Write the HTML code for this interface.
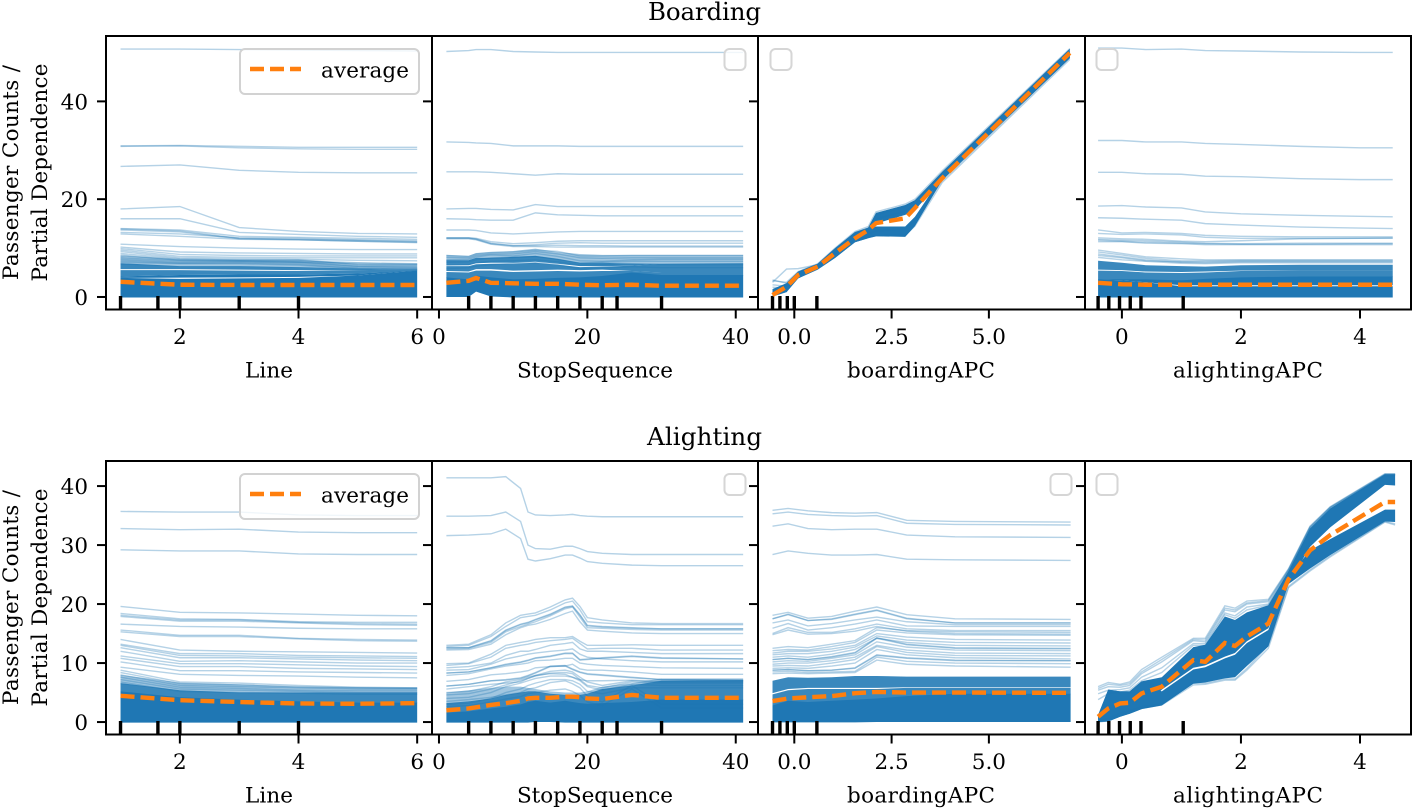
<!DOCTYPE html>
<html lang="en">
<head>
<meta charset="utf-8">
<title>Partial dependence: Boarding and Alighting</title>
<style>
html,body{margin:0;padding:0;background:#fff;}
svg{display:block;}
text{font-family:"DejaVu Serif","Liberation Serif",serif;font-size:21.5px;fill:#000;}
.title{font-size:24.5px;text-anchor:middle;}
.xlabel{text-anchor:middle;}
.ylabel{text-anchor:middle;}
</style>
</head>
<body>
<svg id="chart" width="1412" height="809" viewBox="0 0 1412 809" xmlns="http://www.w3.org/2000/svg">
  <rect x="0" y="0" width="1412" height="809" fill="#fff"/>
  <text class="title" x="704.5" y="20" textLength="113">Boarding</text>
  <text class="title" x="704.5" y="445" textLength="115">Alighting</text>

  <g id="p00"></g>
  <g id="p01"></g>
  <g id="p02"></g>
  <g id="p03"></g>
  <g id="p10"></g>
  <g id="p11"></g>
  <g id="p12"></g>
  <g id="p13"></g>

  <text class="ylabel" transform="translate(18,172.5) rotate(-90)" textLength="215">Passenger Counts /</text>
  <text class="ylabel" transform="translate(47,172.5) rotate(-90)" textLength="218">Partial Dependence</text>
  <text class="ylabel" transform="translate(18,597.5) rotate(-90)" textLength="215">Passenger Counts /</text>
  <text class="ylabel" transform="translate(47,597.5) rotate(-90)" textLength="218">Partial Dependence</text>

  <text class="xlabel" x="269" y="377.5" textLength="48">Line</text>
  <text class="xlabel" x="595" y="377.5" textLength="156">StopSequence</text>
  <text class="xlabel" x="921" y="377.5" textLength="148">boardingAPC</text>
  <text class="xlabel" x="1248" y="377.5" textLength="150">alightingAPC</text>
  <text class="xlabel" x="269" y="802.5" textLength="48">Line</text>
  <text class="xlabel" x="595" y="802.5" textLength="156">StopSequence</text>
  <text class="xlabel" x="921" y="802.5" textLength="148">boardingAPC</text>
  <text class="xlabel" x="1248" y="802.5" textLength="150">alightingAPC</text>

  <g>
    <rect x="240" y="49" width="179" height="45" rx="5" fill="#fff" fill-opacity="0.8" stroke="#d2d2d2" stroke-width="2"/>
    <line x1="250" y1="69" x2="301" y2="69" stroke="#ff7f0e" stroke-width="4.4" stroke-dasharray="14 6"/>
    <text x="321" y="77.5" textLength="88">average</text>
  </g>
  <g>
    <rect x="240" y="474" width="179" height="45" rx="5" fill="#fff" fill-opacity="0.8" stroke="#d2d2d2" stroke-width="2"/>
    <line x1="250" y1="494" x2="301" y2="494" stroke="#ff7f0e" stroke-width="4.4" stroke-dasharray="14 6"/>
    <text x="321" y="502.5" textLength="88">average</text>
  </g>
  <rect x="724.5" y="49" width="21" height="21" rx="5" fill="#fff" fill-opacity="0.8" stroke="#d6d6d6" stroke-width="2"/>
  <rect x="770.5" y="49" width="21" height="21" rx="5" fill="#fff" fill-opacity="0.8" stroke="#d6d6d6" stroke-width="2"/>
  <rect x="1096.5" y="49" width="21" height="21" rx="5" fill="#fff" fill-opacity="0.8" stroke="#d6d6d6" stroke-width="2"/>
  <rect x="724.5" y="474" width="21" height="21" rx="5" fill="#fff" fill-opacity="0.8" stroke="#d6d6d6" stroke-width="2"/>
  <rect x="1050.5" y="474" width="21" height="21" rx="5" fill="#fff" fill-opacity="0.8" stroke="#d6d6d6" stroke-width="2"/>
  <rect x="1096.5" y="474" width="21" height="21" rx="5" fill="#fff" fill-opacity="0.8" stroke="#d6d6d6" stroke-width="2"/>
</svg>

<script>
/* ---------- shared axis data ---------- */
const boardingYTicks = [0, 20, 40];
const alightingYTicks = [0, 10, 20, 30, 40];
const boardingYLim = [-2.56, 53.37];
const alightingYLim = [-2.11, 44.25];

const lineLim = [0.755, 6.25];
const stopLim = [-0.94, 43];
const boardLim = [-0.933, 7.47];
const alightLim = [-0.62, 4.857];

const lineTicks = [2, 4, 6];
const stopTicks = [0, 20, 40];
const boardTicks = [0, 2.5, 5];
const boardTickLabels = ['0.0', '2.5', '5.0'];
const alightTicks = [0, 2, 4];

const lineRug = [1, 1.63, 2, 3, 4];
const stopRug = [4, 7, 10, 13, 16, 19, 22, 24, 30];
const boardRug = [-0.56, -0.37, -0.18, 0, 0.58];
const alightRug = [-0.4, -0.22, -0.04, 0.14, 0.32, 1.03];

/* ---------- Boarding / Line ---------- */
const bLineX = [1, 2, 3, 4, 5, 6];
const bLineAvg = [3.1, 2.5, 2.45, 2.45, 2.45, 2.45];
const bLineSolid = [
  [[-0.1,-0.1,-0.1,-0.1,-0.1,-0.1],[3.9,3.7,3.8,3.9,4.4,5.4]],
  [[3.9,3.95,4,4.1,4.4,5.4],[4.2,4.5,4.6,4.6,4.8,5.4]]
];
const bLineMid = [
  [[4.2,4.5,4.6,4.6,4.8,5.3],[5.5,5.5,5.4,5.3,5.5,5.6]],
  [[5.7,5.7,5.6,5.5,5.5,5.6],[6.9,6.3,6.3,6.1,5.8,5.7]]
];
const bLineLight = [[[6.6,6.2,6.2,6,5.7,5.6],[8.4,7.7,7.6,7.6,6.8,6.8]]];
const bLineIce = [
  [50.7,50.7,50.6,50.5,50.4,50.3],[30.9,31,30.8,30.6,30.6,30.6],[30.8,30.9,30.5,30.3,30.2,30.2],
  [26.7,27,25.9,25.5,25.4,25.4],[18,18.5,14.2,13.4,13,12.9],[16,16,13.2,12.8,12.4,12.2],
  [14,13.7,12.4,12.2,12,11.8],[13.9,13.5,12,11.8,11.6,11.3],[13.7,13.3,11.9,11.7,11.4,11.1],
  [13.2,12.9,12.1,12,11.7,11.5],[12.9,12.4,11.8,11.7,11.4,11.2],[10.8,10.3,10,9.8,9.7,9.7],
  [10.2,9.2,9,8.9,8.8,8.8],[9.9,8.7,8.5,8.4,8.4,8.4],[9.6,8.3,8.1,8,8,8],[9.3,8,7.8,7.7,7.5,7.4],
  [8.9,7.8,7.5,7.4,7,6.8],[8.4,7.7,7.6,7.6,6.6,6.5],[8,7.4,7.4,7.2,6.3,6.2],[7.7,7.1,7.2,7,6.2,6],
  [7.4,6.9,7,6.7,5.9,5.8],[7.1,6.8,6.8,6.5,5.8,5.7],[8.6,7.5,7.3,7.1,6.9,6.7]
];

/* ---------- Boarding / StopSequence ---------- */
const bStopX = [1, 4, 5, 7, 10, 13, 16, 19, 22, 26, 30, 41];
const bStopAvg = [2.9, 3.3, 3.9, 2.9, 2.8, 2.7, 2.7, 2.5, 2.4, 2.5, 2.3, 2.3];
const bStopSolid = [[[0,0,1.1,0.1,-0.1,-0.1,-0.1,-0.1,-0.1,-0.1,-0.1,-0.1],[4,3.6,4.4,4,3.6,3.7,3.9,4,4.3,5,4.5,4.5]]];
const bStopMid = [
  [[3.9,3.5,4.3,3.9,3.5,3.6,3.8,3.9,4.2,4.9,4.4,4.4],[5.1,5,5.4,5.4,5.1,5.2,5.3,5.2,5.3,5.3,5,5]],
  [[5.3,5.2,5.7,5.7,5.4,5.5,5.6,5.5,5.6,5.3,5,5],[6.3,6.3,6.7,6.8,6.8,7,6.6,6.1,6.2,6.4,6.8,6.9]],
  [[6.5,6.5,6.9,7,7,7.2,6.8,6.3,6.3,6.4,6.8,6.9],[7.5,7.5,8,8,8.2,8.4,7.8,7,7,6.8,6.8,6.9]]
];
const bStopLight = [[[7.3,7.3,7.8,7.8,8,8.2,7.6,6.9,6.9,6.7,6.7,6.8],[8.6,8.4,9,9.2,9.4,9.9,9.2,8.8,8.6,8.6,8.6,8.6]]];
const bStopIce = [
  [50.2,50.4,50.6,50.6,50.2,50.1,50,50,50,50,50,50],[31.7,31.6,31.5,31.4,30.9,30.9,30.9,30.8,30.8,30.8,30.8,30.8],
  [25.6,25.6,25.6,25.5,25.2,24.9,25.2,25.1,25.1,25.1,25.1,25.1],[18,18.1,18.1,17.9,17.8,18.9,18.5,18.5,18.5,18.5,18.5,18.5],
  [16,15.9,15.8,15.7,15.7,17.2,16.8,16.7,16.6,16.6,16.6,16.6],[13.7,13.7,13.6,13.1,12.9,13.1,13.3,13.4,13.4,13.4,13.4,13.4],
  [12.1,12.1,12,11.3,10.9,11.1,11.4,11.5,11.5,11.5,11.5,11.5],[12.1,12.1,11.9,11,10.5,10.7,11,11.1,11,11,11,11],
  [12,12,11.8,10.9,10.5,10.5,10.6,10.5,10.5,10.4,10.4,10.4],[11.9,11.9,11.7,10.8,10.3,10.3,10.2,10.2,10.2,10.2,10.2,10.2],
  [8.5,8.3,8.8,9.1,9.2,9.6,9.3,8.4,8.4,8.5,8.5,8.5],[8.1,8,8.5,8.8,8.8,9.3,8.8,8,7.9,8,8,8],
  [7.6,7.7,8.2,8.6,8.4,8.9,8.3,7.4,7.3,7.6,7.7,7.7],[7.1,7.2,7.6,8,8.1,8.3,7.7,6.9,7.1,7.3,7.3,7.3],
  [6.5,6.6,7,7.3,7.4,7.6,7.2,6.5,6.6,6.8,6.6,6.6],[5.8,6,6.3,6.6,6.9,7,6.6,5.8,5.9,6.2,6,6]
];

/* ---------- Boarding / boardingAPC ---------- */
const bBoardX = [-0.56, -0.2, 0.1, 0.6, 1.05, 1.56, 1.9, 2.1, 2.85, 3.1, 3.8, 7.08];
const bBoardAvg = [0.4, 2.1, 4.5, 6.2, 9, 12, 13.7, 15.1, 16.1, 18.2, 24.3, 49.9];
const bBoardSolid = [
  [[0.1,1,3.8,5.6,8,11.2,12,15,16.8,17.8,23.9,48.9],[1.6,2.8,5.2,6.8,10,13.3,14.2,17.2,18.8,19.8,25.6,50.8]],
  [[0.1,1,3.8,5.6,8,11.2,12,12.4,12.3,14.5,23.9,48.8],[1.6,2.8,5.2,6.8,10,13.3,13.8,14.4,14.4,16.4,24.7,50]]
];
const bBoardMid = [];
const bBoardLight = [];
const bBoardIce = [
  [3.5,2.8,5,6.6,9.8,13,14,16.8,18.5,19.6,25.2,50.2],[3,5.7,5.8,6.6,9.5,12.8,13.8,16,17.5,19,25,50],
  [2.5,2.2,4.8,6.2,9.2,12.5,13,13.5,14,15.6,23.8,49],[2,1.8,4.4,6,8.8,11.8,12.2,12.5,12.6,14.5,23.4,48.6],
  [3.3,3,5.2,6.8,10,13.4,14.4,17.4,19,20,25.8,50.8]
];

/* ---------- Boarding / alightingAPC ---------- */
const bAlightX = [-0.4, 0, 0.4, 1, 1.4, 2, 3, 4, 4.55];
const bAlightAvg = [2.9, 2.6, 2.5, 2.5, 2.5, 2.5, 2.5, 2.5, 2.5];
const bAlightSolid = [
  [[-0.1,-0.1,-0.1,-0.1,-0.1,-0.1,-0.1,-0.1,-0.1],[3.6,3.4,3,2.2,2.2,2.2,2.2,2.2,2.2]],
  [[3.6,3.4,3,2.4,2.4,2.4,2.4,2.4,2.4],[3.6,3.6,3.6,3.4,3.7,4,4.2,4.2,4.2]]
];
const bAlightMid = [
  [[3.5,3.5,3.5,3.3,3.6,3.9,4.1,4.1,4.1],[5.4,5.3,5,4.9,5,5.3,5.4,5.4,5.4]],
  [[5.6,5.5,5.2,5.1,5.2,5.4,5.4,5.4,5.4],[7.4,7,6.5,6.3,6.2,6.5,6.6,6.6,6.6]]
];
const bAlightLight = [];
const bAlightIce = [
  [50.9,50.9,50.6,50.7,50.4,50.3,50.1,50,50],[32,32,31.7,31.7,31.4,31.2,30.8,30.5,30.5],
  [25.5,25.5,25.2,25.1,24.7,24.6,24.2,24,24],[18.6,18.7,18.4,18.2,17.4,17,16.7,16.5,16.4],
  [16.2,16.1,15.9,15.7,15,14.7,14.3,14.1,14],[13.7,13.1,13.2,13,12.6,12.4,12.3,12.3,12.3],
  [13,12.8,12.9,12.7,12.2,12,12,12,12],[12.1,11.9,11.8,11.4,11.3,11.5,11.9,12,12.1],
  [11.8,11.6,11.5,11.2,11,10.9,11,11,11],[11.6,11.4,11.2,11,10.9,10.8,10.8,10.9,10.9],
  [11.3,11.3,11,10.9,10.7,10.7,10.7,10.7,10.7],[9.6,8.9,8.2,7.8,7.6,7.6,7.6,7.6,7.6],
  [9.2,8.6,7.9,7.4,7.4,7.5,7.5,7.5,7.5],[8.8,8.2,7.6,7.1,7,7.2,7.2,7.2,7.2],
  [8.5,8,7.4,7.2,7.2,7.3,7.3,7.3,7.3],[8.1,7.6,7.3,6.9,6.8,7,7,7,7]
];

/* ---------- Alighting / Line ---------- */
const aLineX = [1, 2, 3, 4, 5, 6];
const aLineAvg = [4.45, 3.7, 3.4, 3.15, 3.1, 3.2];
const aLineSolid = [[[-0.1,-0.1,-0.1,-0.1,-0.1,-0.1],[5.2,4.2,3.8,3.5,3.3,3.3]]];
const aLineMid = [[[5,4.1,3.7,3.4,3.2,3.2],[6.6,5.4,5,5,5,5]]];
const aLineLight = [[[6.4,5.3,4.9,4.9,4.9,4.9],[8,6.7,6.4,6,5.9,5.9]]];
const aLineIce = [
  [35.7,35.6,35.6,35.1,35,35],[32.8,32.6,32.7,32.2,32.1,32.1],[29.2,29,29,28.5,28.4,28.4],
  [19.6,18.6,18.5,18.3,18.1,18],[18.4,17.5,17.4,17,16.9,16.9],[18.1,17.3,17.3,16.9,16.7,16.6],
  [17.9,17.1,17.1,16.8,16.5,16.4],[16.6,16.2,16.1,15.9,15.8,15.8],[15.6,14.7,14.7,14.2,14,13.9],
  [15.3,14.5,14.5,14.1,13.8,13.7],[14,12.2,12,11.9,11.8,11.7],[13.2,11.6,11.6,11.3,11.2,11.1],
  [13,11.3,11.2,11,10.9,10.8],[12.6,10.9,10.9,10.7,10.5,10.4],[12,10.3,10.4,10.2,10,10],
  [11.2,9.9,9.9,9.7,9.5,9.4],[10.8,9.4,9.4,9.1,9,8.9],[10.2,8.7,8.7,8.5,8.4,8.3],[9.3,8.1,7.9,7.8,7.6,7.5],
  [8.8,6.8,6.6,6.2,5.9,5.8],[8.4,6.5,6.3,6,5.8,5.7],[8,6.2,6,5.8,5.6,5.6],[7.6,5.9,5.7,5.4,5.3,5.3],
  [7.2,5.6,5.4,5.2,5,5],[6.8,5.2,5,4.9,4.7,4.7]
];

/* ---------- Alighting / StopSequence ---------- */
const aStopX = [1, 4, 7, 9, 11, 12, 13, 15, 17, 18, 19, 20, 22, 26, 30, 41];
const aStopAvg = [2, 2.3, 2.9, 3.2, 3.6, 4, 4.1, 4.1, 4.3, 4.3, 4.2, 4, 3.9, 4.6, 4.1, 4.1];
const aStopSolid = [[[-0.1,-0.1,-0.1,-0.1,-0.1,-0.1,0,0,-0.1,-0.1,-0.1,-0.1,-0.1,-0.1,-0.1,-0.1],[1.6,1.8,2.3,2.6,3,3.4,3.6,3.3,3.6,3.4,3.2,3.1,3.2,3.4,3.8,3.8]]];
const aStopMid = [[[1.5,1.7,2.2,2.5,2.9,3.3,3.5,3.2,3.5,3.3,3.1,3,3.1,3.3,3.7,3.7],[3.2,3.5,4,4.6,5,5.2,5.2,4.8,4.6,4.6,4.6,4.8,5.6,6.2,7,7.1]]];
const aStopLight = [[[3.1,3.4,3.9,4.5,4.9,5.1,5.1,4.7,4.5,4.5,4.5,4.7,5.5,6.1,6.9,7],[5,5.4,5.8,6,6,5.8,5.6,5.2,5,5,5,5.2,6,6.6,7.4,7.4]]];
const aStopIce = [
  [41.4,41.4,41.4,41.6,39.6,35.6,35.1,35,35.1,35.2,35,34.9,34.8,34.8,34.8,34.8],
  [34.9,34.9,35,35.6,34,30,29.4,29.3,29.8,29.8,29.4,28.9,28.6,28.4,28.4,28.4],
  [31.6,31.7,31.9,32.7,31.1,27.6,27.3,27.7,28.3,28.3,27.8,27.2,26.9,26.6,26.5,26.5],
  [13,13.2,14.8,16.8,18.1,18.3,18.5,19.5,20.7,21,19.6,17.7,17.3,16.8,16.7,16.7],
  [12.8,13,14.5,16.2,17.7,17.9,18.1,19,20.2,20.5,19,17,16.8,16.5,16.5,16.5],
  [12.6,12.6,13.8,15.6,16.6,16.9,17.4,18.3,19.5,19.7,18.2,16.4,16.2,16,15.8,15.8],
  [12.6,12.6,13.7,15.5,16.5,16.8,17.3,18.2,19.4,19.6,18.1,16.3,16.1,15.9,15.8,15.8],
  [12.4,12.5,13.5,15.3,16.2,16.6,17,18,19.2,19.5,17.8,16,15.9,15.7,15.6,15.6],
  [12.2,12.3,13.2,14.8,16,16.4,16.6,17.4,18.4,18.8,17,15.6,15.4,15.1,15,15],
  [9.9,10,11.5,13,13.5,13.7,14,14.3,14.3,14.5,13.7,13,13,13.1,13,13],
  [9.6,9.9,11,12.5,13,13.2,13.5,13.8,14,14.2,13.3,12.4,12.5,12.5,12.2,12.2],
  [9.2,9.4,10,11.3,12,12,12.3,13,13.3,13.5,12.4,12,12,11.8,11.6,11.6],
  [8.8,8.9,9.8,10.7,11.2,11.5,11.7,12,12.2,12.4,11.5,11,10.7,10.4,10.2,10.2],
  [8.3,8.5,9.2,9.8,10.2,10.5,10.9,11.2,11.7,11.7,10.6,10.7,10.9,11.2,10.9,10.7],
  [8.3,8.5,9.2,9.7,10.1,10.4,10.8,11.1,11.6,11.6,10.5,10.6,10.8,11.1,10.8,10.7],
  [7.9,8.2,9,9.5,9.8,10,10.4,10.5,10.8,10.8,10,9.8,9.6,9.4,9.2,9.1],
  [6.9,7.2,8,8.2,8.5,8.7,9.2,9.4,9.5,9.8,9,8.8,8.8,8.5,8.1,8.1],
  [6.1,6.4,7,7.2,7.5,7.9,8.4,9.5,9.6,9,8.5,8.2,8,7.6,7.2,7.1],
  [6.1,6.4,7,7.1,7.4,7.8,8.3,9.4,9.5,8.9,8.4,8.1,7.9,7.5,7.2,7.1],
  [5.6,6,6.4,6.6,6.8,7.4,7.9,8.2,8.1,7.6,7.2,7,7,7.1,6.9,6.9],
  [5,5.2,6,6.8,7.2,7.6,7.9,8.6,8.8,8.5,7.6,6.8,6.2,7,6.8,6.8],
  [4.6,4.8,5.6,6.3,7,7.4,7.8,8.3,8.4,8.2,7.2,6.2,5.8,6.8,6.6,6.6],
  [4,4.2,5,6,6.6,7,7.4,7.8,7.8,7.6,7,6,5.4,6.4,6.2,6.2],
  [3,3.2,4,5,5.6,6.2,6.6,7.2,7.2,7,6.4,5.2,4.8,5.8,5.8,5.8],
  [3.5,3.8,4.2,4.6,5,5.6,5.8,6.7,7,6.5,5.8,4.4,3.4,6.2,3,3],
  [2.6,2.8,3.4,3.9,4.3,4.8,5,5.4,5.6,5.2,4.5,3.4,2.8,5.6,2.4,2.4]
];

/* ---------- Alighting / boardingAPC ---------- */
const aBoardX = [-0.56, -0.16, 0.35, 0.96, 1.56, 2.12, 2.89, 4.13, 7.1];
const aBoardAvg = [3.56, 4, 4.2, 4.4, 4.9, 5.1, 5, 5, 4.95];
const aBoardSolid = [[[-0.05,-0.05,-0.05,-0.05,-0.05,0,0,0,0],[2.8,3.6,3.4,3.6,3.8,4,4.4,4.8,4.8]]];
const aBoardMid = [
  [[2.7,3.5,3.3,3.5,3.7,3.9,4.3,4.7,4.7],[4.7,5.4,5.6,5.6,5.6,5.6,5.8,5.8,5.8]],
  [[4.9,5.6,5.8,5.8,5.8,5.8,5.9,5.9,5.9],[7,7.6,7.5,7.6,7.8,7.8,7.7,7.7,7.7]]
];
const aBoardLight = [];
const aBoardIce = [
  [35.9,36.2,35.8,35.5,35.4,35.5,34.2,34,33.9],[35.3,35.6,35.2,35,34.9,35,33.7,33.5,33.4],
  [33.2,33.6,32.8,32.6,32.7,32.7,31.7,31.4,31.3],[28.4,29,28.6,28.3,28.3,28.4,27.6,27.5,27.4],
  [18.1,18.6,17.6,17.9,18.8,19.5,18.2,17.5,17.4],[17.5,18.3,17.2,17.5,18.3,19,17.6,16.8,16.8],
  [17.5,18.2,17.2,17.4,18.2,18.9,17.5,16.8,16.8],[16.8,17.3,16.3,16.7,17.3,17.8,17,16.5,16.5],
  [15.9,16.7,15.6,16,16.6,17.3,16.3,16.2,16.2],[15,16,15.2,15.2,15.8,16.6,15.8,15.5,15.5],
  [14.8,15.6,14.9,15,15.4,16.2,15.4,15,14.9],[12.5,12.8,12.6,13.2,13.8,16,15.5,15.3,15.2],
  [12.1,12.3,12.2,12.8,13.5,15.6,15.1,14.8,14.7],[11.7,12,12,12.4,13,15,14.4,14,13.9],
  [11.4,11.6,11.6,12,12.7,14.6,13.9,13.5,13.4],[11,11.2,11,11.5,12.3,14.2,13.5,13,12.9],
  [10.6,10.8,10.6,11.1,11.8,14.3,13.2,12.6,12.5],[10.6,10.8,10.6,11,11.7,14.2,13.1,12.5,12.4],
  [10.2,10.4,10.3,10.8,11.4,13.6,12.7,12.2,12.1],[9.8,10,10,10.4,11,13,12.2,11.7,11.6],
  [9.5,9.6,9.5,10,10.6,12.8,11.8,11.3,11.2],[9.1,9.2,9.1,9.5,10,12.3,11.4,10.9,10.7],
  [8.8,8.9,8.7,8.8,9.2,11.4,10.9,10.5,10.4],[8.8,8.9,8.7,8.8,9.1,11.3,10.8,10.4,10.4],
  [8.5,8.6,8.4,8.5,8.6,11,10.3,10,9.9],[8.2,8.3,8.2,8.3,8.4,10.5,9.8,9.5,9.3]
];

/* ---------- Alighting / alightingAPC ---------- */
const aAlightX = [-0.4, -0.23, -0.03, 0.13, 0.33, 0.67, 1.2, 1.4, 1.73, 1.9, 2.1, 2.46, 2.8, 3.16, 3.5, 4.42, 4.59];
const aAlightAvg = [0.9, 2.3, 3.15, 3.27, 4.85, 6, 10.5, 10.2, 13.4, 12.9, 14.5, 16.7, 24.2, 29.1, 31.7, 37.3, 37.3];
const aAlightSolid = [
  [[0,0.1,0.9,1.4,2.2,5.5,9.2,9.6,11.1,11.7,13.7,15.9,23.5,29.7,33,40.2,40.1],[1.2,5.5,5.2,5.2,6.9,7.6,12.7,13.1,17.9,17.3,18.6,19.8,25.6,32.8,36.2,42,42]],
  [[0,0.1,0.9,1.4,2.2,2.8,6.5,6.7,7.4,7.6,9.5,12.8,23.4,26,28.3,34,33.9],[1.2,5.5,5.2,5.2,6.9,5.2,8.9,9.3,10.8,11.4,13.4,15.6,24.6,29.1,31,36,36]]
];
const aAlightMid = [];
const aAlightLight = [];
const aAlightIce = [
  [6,6.7,6.4,6.8,8.9,11,14.2,14.2,19.7,19.3,20.5,20.8,26,33.2,36.5,42.1,42.1],
  [5.4,6,5.9,6.2,8.2,10.2,13.8,13.6,19,18.7,20,20.4,25.8,33,36.4,42,42],
  [4.8,5.4,5.5,5.8,7.6,9.2,13.3,13.3,18.5,18,19.5,20,25.7,32.9,36.3,41.9,41.9],
  [3.8,4.8,5.1,5.4,7,8.4,13,13,18.2,17.6,19,19.8,25.6,32.8,36.2,41.8,41.8],
  [5.7,6.4,6.2,6.5,8.5,10.6,14,13.9,19.3,19,20.2,20.6,25.9,33.1,36.4,42,42],
  [0,0.2,1.2,1.5,2.3,2.9,6.3,6.4,7.1,7.1,8.8,12.5,22.8,25.6,28,33.9,33.4],
  [0.2,0.6,1.5,1.9,2.6,3.1,6.6,6.6,7.3,7.3,9.1,13,23,25.8,28.2,34,33.6]
];

/* ---------- layout (geometry only) ---------- */
const NS = 'http://www.w3.org/2000/svg';
const COLUMN_EDGES = [106, 432, 758, 1085, 1411];
const ROW_TOPS = [36, 461];
const ROW_BOTTOMS = [309.5, 734.5];

function scale(domain, rangeA, rangeB) {
  return function (v) {
    return rangeA + (v - domain[0]) * (rangeB - rangeA) / (domain[1] - domain[0]);
  };
}

function makeSvg(tag, attrs) {
  const el = document.createElementNS(NS, tag);
  Object.keys(attrs).forEach(function (k) { el.setAttribute(k, attrs[k]); });
  return el;
}

function linePath(xs, ys, sx, sy) {
  return xs.map(function (x, i) {
    return (i ? 'L' : 'M') + sx(x).toFixed(2) + ' ' + sy(ys[i]).toFixed(2);
  }).join('');
}

function bandPath(xs, band, sx, sy) {
  const lo = band[0], hi = band[1];
  let d = linePath(xs, lo, sx, sy);
  for (let i = xs.length - 1; i >= 0; i--) {
    d += 'L' + sx(xs[i]).toFixed(2) + ' ' + sy(hi[i]).toFixed(2);
  }
  return d + 'Z';
}

function drawBands(g, bands, xs, sx, sy, opacity) {
  bands.forEach(function (band) {
    const p = makeSvg('path', { d: bandPath(xs, band, sx, sy), fill: '#1f77b4', 'fill-opacity': opacity });
    
    
    g.appendChild(p);
  });
}

function drawPanel(row, col, xLim, yLim, xTicks, xTickLabels, yTicks, rug, xs, ice, solid, mid, light, avg) {
  const g = document.getElementById('p' + row + col);
  const left = COLUMN_EDGES[col], right = COLUMN_EDGES[col + 1];
  const top = ROW_TOPS[row], bottom = ROW_BOTTOMS[row];
  const sx = scale(xLim, left, right);
  const sy = scale(yLim, bottom, top);

  drawBands(g, light, xs, sx, sy, 0.42);
  drawBands(g, mid, xs, sx, sy, 0.88);
  drawBands(g, solid, xs, sx, sy, 1);

  ice.forEach(function (vals) {
    const p = makeSvg('path', { d: linePath(xs, vals, sx, sy), fill: 'none', stroke: '#1f77b4', 'stroke-width': 1.4, 'stroke-opacity': 0.33 });
    
    
    g.appendChild(p);
  });

  rug.forEach(function (v) {
    const r = makeSvg('line', { x1: sx(v), x2: sx(v), y1: bottom - 13.5, y2: bottom, stroke: '#000', 'stroke-width': 3.4 });
    
    
    g.appendChild(r);
  });

  const avgLine = makeSvg('path', { d: linePath(xs, avg, sx, sy), fill: 'none', stroke: '#ff7f0e', 'stroke-width': 4.4, 'stroke-dasharray': '14 6' });
  
  
  g.appendChild(avgLine);

  const spines = makeSvg('rect', { x: left, y: top, width: right - left, height: bottom - top, fill: 'none', stroke: '#000', 'stroke-width': 2 });
  
  
  g.appendChild(spines);

  xTicks.forEach(function (v, i) {
    const t = makeSvg('line', { x1: sx(v), x2: sx(v), y1: bottom, y2: bottom + 9, stroke: '#000', 'stroke-width': 2 });
    
    
    g.appendChild(t);
    const lab = makeSvg('text', { x: sx(v), y: bottom + 34.5, 'text-anchor': 'middle' });
    
    
    lab.textContent = xTickLabels[i];
    g.appendChild(lab);
  });

  yTicks.forEach(function (v) {
    const t = makeSvg('line', { x1: left - 9, x2: left, y1: sy(v), y2: sy(v), stroke: '#000', 'stroke-width': 2 });
    
    
    g.appendChild(t);
    if (col === 0) {
      const lab = makeSvg('text', { x: 88, y: sy(v) + 8, 'text-anchor': 'end' });
      
      
      lab.textContent = v;
      g.appendChild(lab);
    }
  });
}

drawPanel(0, 0, lineLim, boardingYLim, lineTicks, lineTicks, boardingYTicks, lineRug, bLineX, bLineIce, bLineSolid, bLineMid, bLineLight, bLineAvg);
drawPanel(0, 1, stopLim, boardingYLim, stopTicks, stopTicks, boardingYTicks, stopRug, bStopX, bStopIce, bStopSolid, bStopMid, bStopLight, bStopAvg);
drawPanel(0, 2, boardLim, boardingYLim, boardTicks, boardTickLabels, boardingYTicks, boardRug, bBoardX, bBoardIce, bBoardSolid, bBoardMid, bBoardLight, bBoardAvg);
drawPanel(0, 3, alightLim, boardingYLim, alightTicks, alightTicks, boardingYTicks, alightRug, bAlightX, bAlightIce, bAlightSolid, bAlightMid, bAlightLight, bAlightAvg);
drawPanel(1, 0, lineLim, alightingYLim, lineTicks, lineTicks, alightingYTicks, lineRug, aLineX, aLineIce, aLineSolid, aLineMid, aLineLight, aLineAvg);
drawPanel(1, 1, stopLim, alightingYLim, stopTicks, stopTicks, alightingYTicks, stopRug, aStopX, aStopIce, aStopSolid, aStopMid, aStopLight, aStopAvg);
drawPanel(1, 2, boardLim, alightingYLim, boardTicks, boardTickLabels, alightingYTicks, boardRug, aBoardX, aBoardIce, aBoardSolid, aBoardMid, aBoardLight, aBoardAvg);
drawPanel(1, 3, alightLim, alightingYLim, alightTicks, alightTicks, alightingYTicks, alightRug, aAlightX, aAlightIce, aAlightSolid, aAlightMid, aAlightLight, aAlightAvg);
</script>
</body>
</html>
